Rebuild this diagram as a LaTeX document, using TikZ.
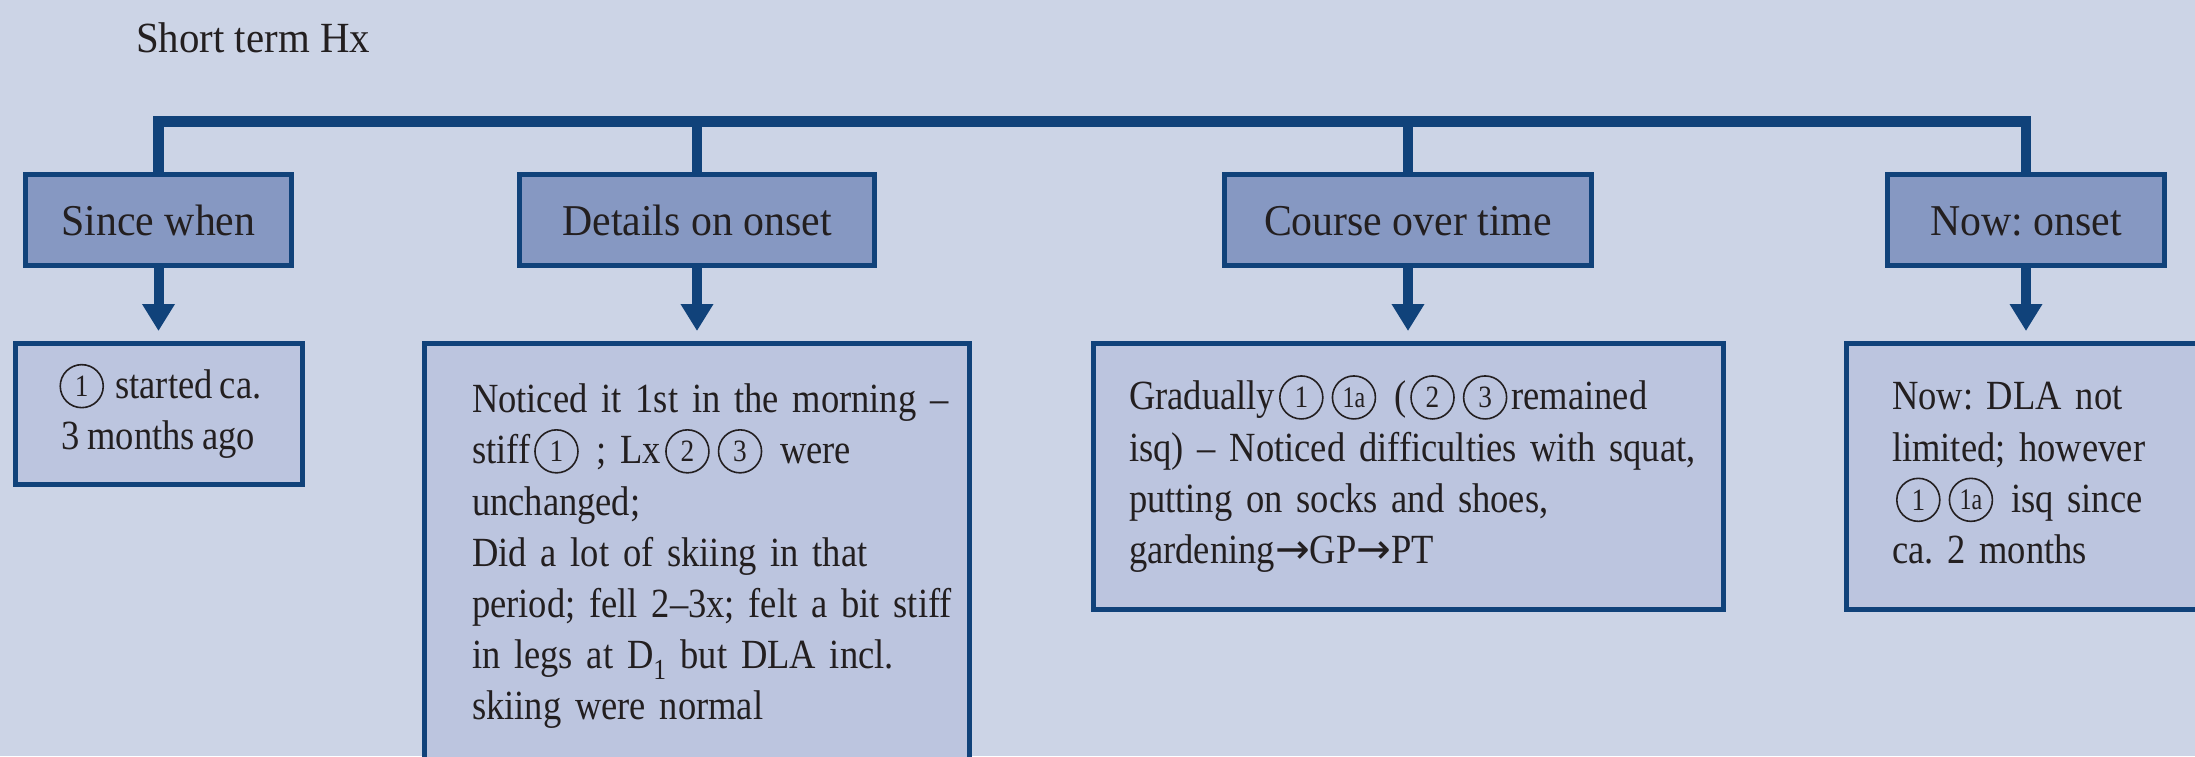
\documentclass[tikz,border=0pt]{standalone}
\usepackage{fontspec}
\setmainfont{Liberation Serif}[FakeStretch=0.95]
\newfontfamily\bodyfam{Liberation Serif}[FakeStretch=0.88, WordSpace=0.8, Ligatures=TeX]
\newfontfamily\symfam{DejaVu Sans}
\usetikzlibrary{arrows.meta}

\definecolor{bg}{HTML}{CCD4E6}
\definecolor{headfill}{HTML}{8698C2}
\definecolor{bodyfill}{HTML}{BCC5DF}
\definecolor{rule}{HTML}{10427A}
\definecolor{ink}{HTML}{231F20}

\frenchspacing
\newcommand\headfont{\fontsize{44}{50}\selectfont}
\newcommand\bodyfont{\bodyfam\fontsize{41.5}{51.2}\selectfont}
\newcommand\rarrow{{\symfam →}}

% circled item number set inline in a line of text
\newcommand\cnumgen[2]{\hspace{4pt}\smash{\tikz[baseline=0pt]\node[circle, draw=ink,
    fill=none, line width=1.6pt, minimum size=43pt, inner sep=0pt, outer sep=0pt,
    anchor=center, text width={}, text height={}, text depth={}, align=center,
    text=ink, font={#1}] (cn) at (0pt,12.5pt) {#2};}\hspace{4pt}}
\newcommand\cnum[1]{\cnumgen{\bodyfam\fontsize{31}{31}\selectfont}{#1}}
\newcommand\cnumsm[1]{\cnumgen{\bodyfam\fontsize{30}{30}\selectfont\addfontfeatures{FakeStretch=0.8}}{#1}}

\begin{document}
\begin{tikzpicture}[x=1pt,y=-1pt,
  headbox/.style={draw=rule, fill=headfill, line width=5pt, minimum height=91pt,
    inner sep=0pt, text=ink, font=\headfont, text height=30pt, text depth=0pt},
  bodybox/.style={draw=rule, fill=bodyfill, line width=5pt, inner ysep=0pt,
    text=ink, font=\bodyfont, anchor=north},
  bus/.style={draw=rule, line width=10.5pt, line join=miter},
  drop/.style={draw=rule, line width=10pt, -{Triangle[width=31pt,length=27pt]},
    shorten >=10pt}]

  \useasboundingbox (0,0) rectangle (2195,756);
  \clip (0,0) rectangle (2195,756);
  \fill[bg] (0,0) rectangle (2195,756);

  % title
  \node[anchor=base west, inner sep=0pt, text=ink, font=\fontsize{43}{50}\selectfont]
    (title) at (136,52) {Short term Hx};

  % question boxes
  \node[headbox, minimum width=266pt] (since)   at (158.5,220) {Since when};
  \node[headbox, minimum width=355pt] (details) at (697,220)   {Details on onset};
  \node[headbox, minimum width=367pt] (course)  at (1408,220)  {Course over time};
  \node[headbox, minimum width=277pt] (now)     at (2026,220)  {Now: onset};

  % answer boxes
  \node[bodybox, minimum width=287pt, minimum height=141pt, align=center]
    (b1) at (158.5,341)
    {\begin{tabular}{@{}c@{}}\cnum{1} started ca.\\ 3 months ago\end{tabular}};

  \node[bodybox, text width=450pt, inner xsep=47.5pt, minimum height=425pt, align=left]
    (b2) at (697,341)
    {\begin{tabular}{@{}l@{}}
      Noticed it 1st in the morning --\\
      stiff\cnum{1} ; Lx\cnum{2}\cnum{3} were\\
      unchanged;\\
      Did a lot of skiing in that\\
      period; fell 2--3x; felt a bit stiff\\
      in legs at D\textsubscript{1} but DLA incl.\\
      skiing were normal
    \end{tabular}};

  \node[bodybox, text width=558pt, inner xsep=36pt, minimum height=266pt, align=left]
    (b3) at (1408,341)
    {\begin{tabular}{@{}l@{}}
      Gradually\cnum{1}\cnumsm{1a} (\cnum{2}\cnum{3}remained\\
      isq) -- Noticed difficulties with squat,\\
      putting on socks and shoes,\\
      gardening\rarrow GP\rarrow PT
    \end{tabular}};

  \node[bodybox, text width=268pt, inner xsep=45.5pt, minimum height=266pt, align=left]
    (b4) at (2026,341)
    {\begin{tabular}{@{}l@{}}
      Now: DLA not\\
      limited; however\\
      \cnum{1}\cnumsm{1a} isq since\\
      ca. 2 months
    \end{tabular}};

  % branching bus from the top line to each question
  \coordinate (busline) at (0,121.5);
  \draw[bus] (since.north) -- (since.north |- busline) -| (now.north);
  \draw[bus] (details.north) -- (details.north |- busline);
  \draw[bus] (course.north) -- (course.north |- busline);

  % arrows from questions to answers
  \draw[drop] (since.south)   -- (since.south |- b1.north);
  \draw[drop] (details.south) -- (details.south |- b2.north);
  \draw[drop] (course.south)  -- (course.south |- b3.north);
  \draw[drop] (now.south)     -- (now.south |- b4.north);
\end{tikzpicture}
\end{document}
